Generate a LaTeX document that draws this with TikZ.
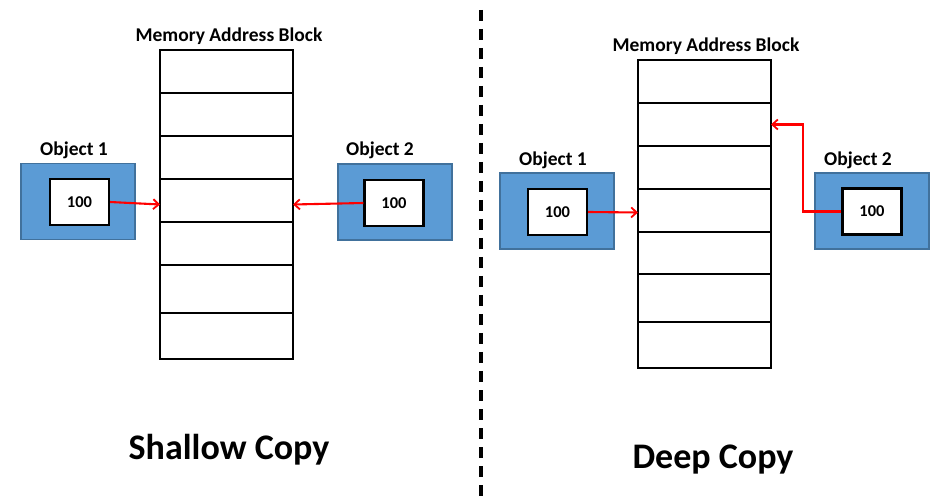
\documentclass[tikz,border=0pt]{standalone}
\usepackage{fontspec}
\setmainfont{Carlito}
\usetikzlibrary{arrows.meta}
\definecolor{objfill}{HTML}{5B9BD5}
\definecolor{objline}{HTML}{41719C}
\begin{document}
\begin{tikzpicture}[x=1pt,y=-1pt,
  cell/.style={draw=black,line width=2.3pt,fill=white,anchor=north west,minimum width=133pt,inner sep=0pt,outer sep=0pt},
  obj/.style={draw=objline,line width=1.6pt,fill=objfill,minimum width=114pt,minimum height=76pt,inner sep=0pt},
  val/.style={draw=black,line width=2.3pt,fill=white,minimum width=59pt,minimum height=46pt,inner sep=0pt,font=\fontsize{16.5}{18}\selectfont\bfseries},
  lab/.style={font=\fontsize{19.5}{21}\selectfont\bfseries,inner sep=0pt},
  title/.style={font=\fontsize{36}{38}\selectfont\bfseries,inner sep=0pt},
  ptr/.style={draw=red,line width=2.1pt,-{Straight Barb[length=5.5pt,width=10pt,line width=1.8pt]}}]
\useasboundingbox (0,0) rectangle (934,502);
\fill[white] (0,0) rectangle (934,502);
% divider
\coordinate (dtop) at (481,10);
\coordinate (dbot) at (481,502);
\draw[line width=3.2pt,dash pattern=on 11pt off 8pt] (dtop) -- (dbot);
% left memory block
\node[cell,minimum height=43pt] (cL1) at (160,50) {};
\node[cell,minimum height=43pt] (cL2) at (160,93) {};
\node[cell,minimum height=43pt] (cL3) at (160,136) {};
\node[cell,minimum height=43pt] (cL4) at (160,179) {};
\node[cell,minimum height=43pt] (cL5) at (160,222) {};
\node[cell,minimum height=48pt] (cL6) at (160,265) {};
\node[cell,minimum height=46pt] (cL7) at (160,313) {};
\node[lab] (mL) at (229,36) {Memory Address Block};
% right memory block
\node[cell,minimum height=43pt] (cR1) at (638,60) {};
\node[cell,minimum height=43pt] (cR2) at (638,103) {};
\node[cell,minimum height=43pt] (cR3) at (638,146) {};
\node[cell,minimum height=43pt] (cR4) at (638,189) {};
\node[cell,minimum height=42pt] (cR5) at (638,232) {};
\node[cell,minimum height=48pt] (cR6) at (638,274) {};
\node[cell,minimum height=46pt] (cR7) at (638,322) {};
\node[lab] (mR) at (706,46) {Memory Address Block};
% left objects
\node[obj] (oL1) at (78,201.5) {};
\node[val] (vL1) at (79.5,202) {100};
\node[lab] (tL1) at (74,150) {Object 1};
\node[obj] (oL2) at (395,202) {};
\node[val] (vL2) at (394,203) {100};
\node[lab] (tL2) at (380,150) {Object 2};
% right objects
\node[obj] (oR1) at (557,211) {};
\node[val] (vR1) at (557.5,212) {100};
\node[lab] (tR1) at (553,160) {Object 1};
\node[obj] (oR2) at (872,211) {};
\node[val] (vR2) at (872,211.5) {100};
\node[lab] (tR2) at (858,160) {Object 2};
% pointers
\draw[ptr] (vL1.east) -- ([yshift=-4pt]cL4.west);
\draw[ptr] (vL2.west) -- ([yshift=-4pt]cL4.east);
\draw[ptr] (vR1.east) -- ([yshift=-2pt]cR4.west);
\draw[ptr] (vR2.west) -- ++(-38,0) |- (cR2.east);
% titles
\node[title] (sh) at (229,450) {Shallow Copy};
\node[title] (dp) at (713,460) {Deep Copy};
\end{tikzpicture}
\end{document}
